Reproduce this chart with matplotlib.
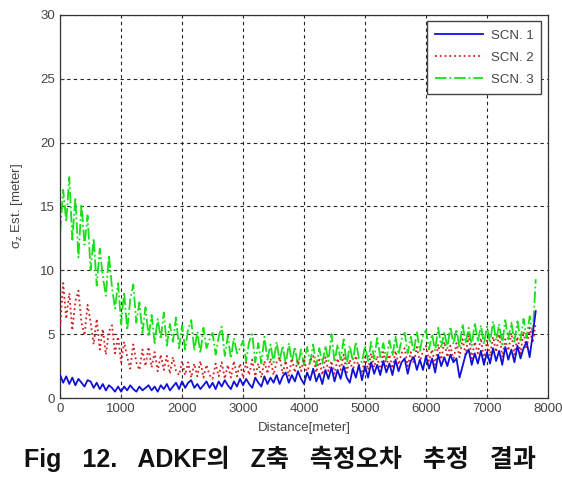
import numpy as np
import matplotlib
matplotlib.use('Agg')
import matplotlib.pyplot as plt

plt.rcParams['font.family'] = ['Liberation Sans', 'DejaVu Sans']

# distance samples (every 50 m)
dist = np.arange(0, 7801, 50)

# SCN. 1 (blue)
scn1 = [1.8, 1.2, 1.7, 1.1, 1.6, 1.0, 1.5, 1.2, 0.9, 1.4,
        1.3, 0.8, 1.2, 0.7, 1.1, 0.6, 1.0, 0.8, 0.5, 0.9,
        0.5, 0.9, 0.6, 1.0, 0.7, 0.5, 0.9, 0.6, 0.8, 1.0,
        0.6, 0.9, 0.5, 1.0, 0.7, 1.1, 0.6, 0.9, 1.2, 0.7,
        1.3, 0.8, 1.2, 1.4, 0.8, 1.1, 0.7, 1.0, 1.3, 0.8,
        1.2, 0.7, 1.3, 0.9, 1.4, 1.0, 0.7, 1.3, 0.9, 1.5,
        1.0, 1.5, 1.1, 0.8, 1.6, 1.2, 0.9, 1.7, 1.1, 1.6,
        1.2, 1.8, 1.1, 1.7, 2.0, 1.2, 1.8, 1.3, 2.1, 1.5,
        1.1, 2.0, 1.4, 2.3, 1.3, 1.9, 1.1, 2.2, 1.5, 2.4,
        1.3, 2.2, 1.5, 2.5, 1.6, 1.2, 2.3, 1.6, 2.6, 1.4,
        2.5, 1.6, 2.8, 1.9, 2.6, 1.8, 2.9, 2.0, 2.7, 1.8,
        3.0, 2.1, 2.8, 3.1, 1.9, 2.9, 3.2, 2.2, 3.0, 2.2,
        3.3, 2.3, 3.1, 2.0, 3.4, 2.5, 3.2, 2.5, 3.4, 2.8,
        3.1, 1.6, 2.5, 3.4, 3.8, 2.6, 3.5, 2.7, 3.7, 2.6,
        3.6, 2.7, 3.9, 2.9, 3.7, 2.6, 4.0, 3.0, 3.8, 2.8,
        4.1, 3.1, 3.9, 4.4, 3.2, 5.0, 6.8]

# SCN. 2 (red)
scn2 = [5.6, 9.0, 6.2, 8.2, 5.3, 7.6, 8.4, 5.9, 4.9, 7.3,
        5.9, 4.2, 6.2, 3.8, 5.4, 3.4, 5.2, 5.7, 3.5, 4.8,
        2.8, 4.4, 3.2, 2.3, 4.2, 2.8, 2.2, 3.8, 2.5, 4.0,
        2.4, 3.6, 2.1, 3.4, 2.2, 3.3, 1.9, 3.2, 2.1, 1.8,
        2.9, 1.8, 2.8, 1.6, 2.7, 1.7, 2.9, 1.6, 2.6, 1.8,
        1.5, 2.7, 1.7, 2.8, 1.5, 2.6, 1.6, 2.9, 1.7, 2.7,
        1.6, 2.8, 1.8, 3.0, 1.7, 2.7, 1.6, 2.9, 1.9, 3.1,
        1.8, 2.8, 3.2, 1.9, 2.9, 1.7, 3.1, 2.0, 3.0, 2.1,
        3.1, 1.9, 2.9, 3.3, 2.0, 3.0, 1.8, 3.2, 2.1, 2.9,
        1.9, 3.1, 2.2, 3.4, 2.0, 3.0, 2.1, 3.3, 2.3, 1.9,
        3.2, 2.2, 3.5, 2.4, 3.3, 2.1, 3.6, 2.5, 3.4, 2.3,
        3.7, 2.6, 3.5, 3.9, 2.5, 3.6, 2.7, 4.0, 2.8, 3.7,
        4.1, 2.9, 3.8, 2.6, 4.2, 3.0, 4.4, 3.2, 4.1, 2.9,
        4.3, 3.2, 4.6, 3.4, 4.9, 3.1, 4.4, 3.5, 4.7, 3.0,
        4.5, 3.3, 4.8, 3.6, 5.0, 3.2, 4.6, 3.7, 5.1, 3.4,
        4.8, 3.5, 5.2, 3.8, 5.5, 4.3, 5.9]

# SCN. 3 (green)
scn3 = [13.0, 16.3, 13.8, 17.3, 12.4, 15.7, 11.0, 15.2, 12.0, 14.3,
        10.0, 12.5, 8.8, 11.7, 9.5, 8.0, 11.2, 8.7, 7.0, 9.0,
        5.8, 8.3, 5.3, 7.7, 8.9, 5.9, 7.5, 5.1, 7.1, 4.8,
        6.5, 4.3, 6.2, 4.6, 6.7, 4.1, 5.8, 4.4, 6.3, 3.9,
        5.7, 3.8, 5.4, 6.1, 3.7, 5.2, 3.5, 5.5, 3.9, 4.6,
        5.1, 3.4, 4.8, 5.6, 3.3, 4.9, 3.1, 4.7, 3.5, 3.9,
        4.5, 2.9, 4.4, 5.0, 2.8, 4.3, 2.7, 4.8, 3.0, 4.2,
        2.8, 4.4, 2.9, 4.1, 2.6, 4.3, 2.8, 4.0, 2.5, 3.8,
        2.6, 4.0, 2.8, 4.2, 2.5, 3.9, 2.7, 4.1, 2.9, 5.0,
        2.8, 4.2, 3.0, 4.6, 2.6, 4.1, 2.9, 4.4, 3.1, 2.8,
        4.1, 2.9, 4.4, 3.1, 4.7, 3.2, 4.3, 3.0, 4.5, 3.3,
        4.8, 3.4, 4.6, 5.1, 3.5, 4.8, 3.6, 5.2, 3.7, 4.9,
        5.3, 3.8, 5.0, 3.7, 5.5, 4.0, 5.2, 3.9, 5.6, 4.2,
        5.4, 3.9, 5.8, 4.3, 5.5, 4.1, 5.9, 4.4, 5.7, 4.2,
        5.6, 4.3, 6.0, 4.5, 5.8, 4.2, 6.1, 4.6, 5.9, 4.4,
        6.0, 4.5, 6.2, 4.7, 6.4, 5.0, 9.3]

labels = ['SCN. 1', 'SCN. 2', 'SCN. 3']
caption = 'Fig   12.   ADKF의   Z축   측정오차   추정   결과'

fig = plt.figure(figsize=(5.62, 4.79), dpi=100)
ax = fig.add_axes([0.107, 0.169, 0.868, 0.80])

l1, = ax.plot(dist, scn1, color='#1010d8', lw=1.3, ls='-', zorder=4)
l2, = ax.plot(dist, scn2, color='#d42020', lw=1.3, ls=':', zorder=3)
l3, = ax.plot(dist, scn3, color='#18e018', lw=1.3, ls='-.', zorder=2)

ax.set_xlim(0, 8000)
ax.set_ylim(0, 30)
ax.set_xticks(np.arange(0, 8001, 1000))
ax.set_yticks(np.arange(0, 31, 5))
ax.grid(True, color='#222222', ls=(0, (3, 3)), lw=0.8)
ax.tick_params(labelsize=9.5, colors='#444444', direction='in', length=3)
for sp in ax.spines.values():
    sp.set_color('#333333')
    sp.set_linewidth(0.9)

ax.set_xlabel('Distance[meter]', fontsize=9.5, color='#444444', labelpad=5)
ax.set_ylabel(r'$\mathregular{σ_z}$ Est. [meter]', fontsize=9.5, color='#444444',
              labelpad=11)

leg = ax.legend([l1, l2, l3], labels, loc='upper right', fontsize=9.5,
                fancybox=False, framealpha=1, edgecolor='#444444',
                borderaxespad=0.5, handlelength=3.6, labelspacing=0.75,
                borderpad=0.6, handletextpad=0.6)
leg.get_frame().set_linewidth(1.0)
for t in leg.get_texts():
    t.set_color('#444444')

fig.text(0.498, 0.025, caption, ha='center', va='baseline', fontsize=18,
         fontweight='bold', color='#111111',
         family=['Liberation Sans', 'Noto Sans CJK KR'])

fig.savefig('out.png', dpi=100)
